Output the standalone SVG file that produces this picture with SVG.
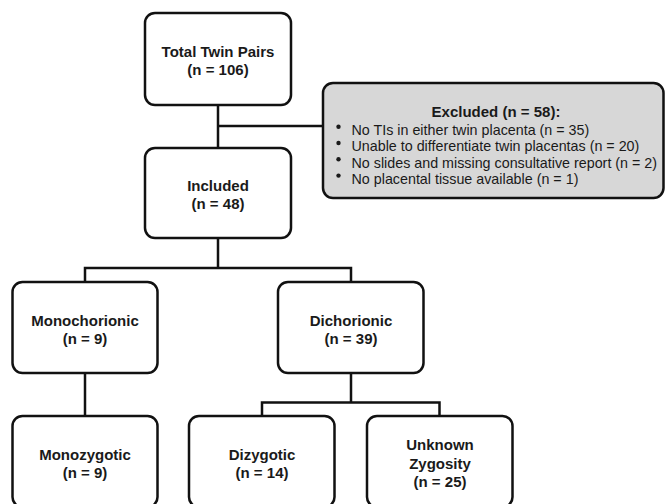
<svg xmlns="http://www.w3.org/2000/svg" width="665" height="504" viewBox="0 0 665 504">
<style>
.box{fill:#fff;stroke:#111;stroke-width:2.5}
.gbox{fill:#d7d7d7;stroke:#111;stroke-width:2.5}
.t{font-family:"Liberation Sans",Arial,sans-serif;font-weight:bold;font-size:15px;fill:#1a1a1a;text-anchor:middle}
.l{font-family:"Liberation Sans",Arial,sans-serif;font-size:14.3px;fill:#1a1a1a}
.c{fill:none;stroke:#111;stroke-width:2.5}
</style>
<rect width="665" height="504" fill="#fff"/>
<g id="connectors">
<path class="c" d="M218 105V148M218 126H323"/>
<path class="c" d="M218 238V268M85 282V268H351V282"/>
<path class="c" d="M85 373V416"/>
<path class="c" d="M351 373V402.5M262 416V402.5H439.5V416"/>
</g>
<g id="total">
<rect class="box" x="145" y="13" width="146" height="92" rx="10"/>
<text class="t" x="218" y="57">Total Twin Pairs</text>
<text class="t" x="218" y="75">(n = 106)</text>
</g>
<g id="excluded">
<rect class="gbox" x="323" y="83" width="340.5" height="115" rx="10"/>
<text class="t" x="496" y="117.3">Excluded (n = 58):</text>
<circle cx="338.5" cy="126.7" r="2.2" fill="#1a1a1a"/>
<circle cx="338.5" cy="143" r="2.2" fill="#1a1a1a"/>
<circle cx="338.5" cy="159.3" r="2.2" fill="#1a1a1a"/>
<circle cx="338.5" cy="175.6" r="2.2" fill="#1a1a1a"/>
<text class="l" x="351.5" y="135">No TIs in either twin placenta (n = 35)</text>
<text class="l" x="351.5" y="151.3">Unable to differentiate twin placentas (n = 20)</text>
<text class="l" x="351.5" y="167.6">No slides and missing consultative report (n = 2)</text>
<text class="l" x="351.5" y="184">No placental tissue available (n = 1)</text>
</g>
<g id="included">
<rect class="box" x="145" y="148" width="146" height="90" rx="10"/>
<text class="t" x="218" y="191">Included</text>
<text class="t" x="218" y="209">(n = 48)</text>
</g>
<g id="monochorionic">
<rect class="box" x="12.5" y="282" width="145" height="91" rx="10"/>
<text class="t" x="85" y="325.5">Monochorionic</text>
<text class="t" x="85" y="344">(n = 9)</text>
</g>
<g id="dichorionic">
<rect class="box" x="278" y="282" width="145.5" height="91" rx="10"/>
<text class="t" x="351" y="325.5">Dichorionic</text>
<text class="t" x="351" y="344">(n = 39)</text>
</g>
<g id="monozygotic">
<rect class="box" x="12.5" y="416" width="145" height="91" rx="10"/>
<text class="t" x="85" y="459.5">Monozygotic</text>
<text class="t" x="85" y="477.5">(n = 9)</text>
</g>
<g id="dizygotic">
<rect class="box" x="189" y="416" width="145.5" height="91" rx="10"/>
<text class="t" x="262" y="459.5">Dizygotic</text>
<text class="t" x="262" y="477.5">(n = 14)</text>
</g>
<g id="unknown">
<rect class="box" x="367" y="416" width="145.5" height="91" rx="10"/>
<text class="t" x="440" y="450">Unknown</text>
<text class="t" x="440" y="468.5">Zygosity</text>
<text class="t" x="440" y="487">(n = 25)</text>
</g>
</svg>
